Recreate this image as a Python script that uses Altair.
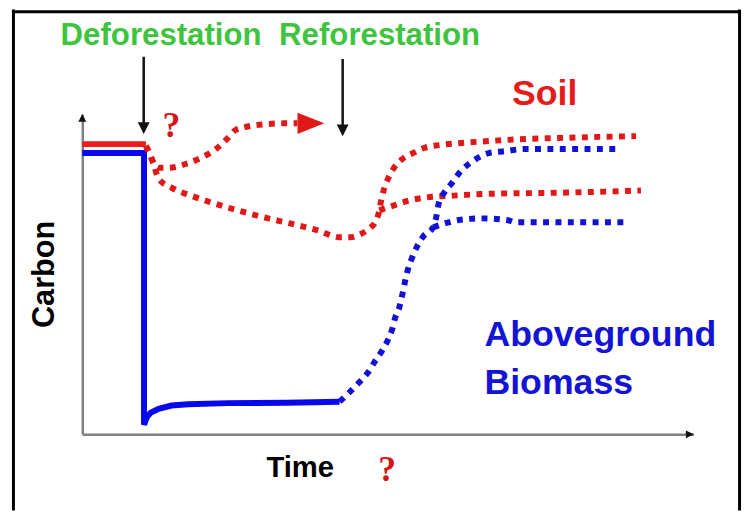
import altair as alt
import pandas as pd

# ---------------- data (x = Time, 0-100 along the axis; y = Carbon, 0-100 along the axis)
soil_pre_t = [0.0, 10.4]
soil_pre_c = [90.7, 90.7]

biomass_pre_t = [0.0, 10.1, 10.1, 10.6, 11.2, 12.5, 14.6, 17.3, 23.8, 33.5, 42.1]
biomass_pre_c = [87.9, 87.9, 3.0, 5.5, 6.8, 8.0, 9.0, 9.4, 9.75, 9.9, 10.2]

soil_gain_t = [10.4, 11.0, 11.5, 12.5, 14.1, 16.9, 19.4, 21.9, 23.8, 25.0, 26.6, 29.8, 33.1, 35.2]
soil_gain_c = [90.1, 87.9, 85.4, 83.3, 83.3, 84.5, 86.4, 89.2, 92.6, 95.0, 96.0, 96.9, 97.2, 97.2]

soil_main_t = [10.4, 11.0, 11.5, 12.5, 14.6, 17.8, 21.7, 25.4, 29.8, 34.0, 38.4, 42.1, 43.8,
               45.4, 47.0, 48.1, 48.6, 48.9, 49.3, 50.1, 50.9, 52.2, 54.1, 55.9, 58.3, 61.6,
               66.0, 72.4, 77.8, 83.3, 90.6]
soil_main_c = [90.1, 87.9, 85.4, 79.9, 77.1, 74.6, 72.1, 70.0, 67.8, 65.9, 63.8, 61.6, 61.6,
               62.5, 64.4, 66.9, 70.0, 73.1, 76.2, 80.2, 83.0, 85.8, 87.9, 89.5, 90.4, 91.0,
               91.6, 92.3, 92.6, 92.9, 93.2]

soil_low_t = [48.6, 50.9, 53.5, 56.2, 60.6, 67.1, 77.8, 91.4]
soil_low_c = [70.0, 71.5, 73.1, 74.0, 74.6, 75.2, 75.5, 76.2]

biomass_up_t = [42.1, 43.8, 45.4, 46.8, 47.8, 48.9, 49.9, 50.7, 51.2, 51.9, 52.4, 52.8, 53.3,
                54.0, 54.8, 55.8, 57.4, 57.9, 58.3, 59.2, 60.5, 61.8, 63.9, 66.5, 69.2, 72.4,
                77.8, 87.5]
biomass_up_c = [10.2, 13.3, 16.4, 19.5, 22.6, 25.7, 29.1, 32.8, 36.5, 39.9, 44.0, 47.7, 51.7,
                55.4, 58.8, 61.9, 64.7, 67.8, 72.1, 75.5, 78.6, 82.0, 85.4, 87.9, 88.5, 89.2,
                89.2, 89.2]

biomass_low_t = [57.4, 59.3, 61.6, 65.5, 69.7, 70.8, 77.8, 89.1]
biomass_low_c = [64.7, 65.9, 67.0, 67.5, 66.9, 66.3, 66.3, 66.3]

series_names = ["soil_pre", "biomass_pre", "soil_gain", "soil_main", "soil_low",
                "biomass_up", "biomass_low"]
series_styles = ["solid", "solid", "dotted", "dotted", "dotted", "dotted", "dotted"]
series_colors = ["#ee1c1c", "#0808ee", "#e01818", "#e01818", "#e01818", "#1212d4", "#1212d4"]
series_t = [soil_pre_t, biomass_pre_t, soil_gain_t, soil_main_t, soil_low_t, biomass_up_t, biomass_low_t]
series_c = [soil_pre_c, biomass_pre_c, soil_gain_c, soil_main_c, soil_low_c, biomass_up_c, biomass_low_c]

# black event arrows
event_t = [10.05, 42.6]
event_c_top = [118.0, 117.3]
event_c_end = [96.5, 95.8]

# arrow heads: axis heads, event heads, red soil head
head_t = [0.0, 99.4, 10.05, 42.6, 37.4]
head_c = [98.9, 0.0, 95.7, 95.0, 97.2]
head_shape = ["M0,-1L-1,1L1,1Z", "M1,0L-1,-1L-1,1Z", "M-1,-1L1,-1L0,1Z", "M-1,-1L1,-1L0,1Z",
              "M-1,-0.8L1,0L-1,0.8Z"]
head_size = [64, 64, 144, 144, 729]
head_fill = ["#111111", "#111111", "#111111", "#111111", "#e01818"]

# labels
green_labels = ["Deforestation", "Reforestation"]
green_t = [-3.55, 32.2]
green_c = [121.6, 121.6]
blue_labels = ["Aboveground", "Biomass"]
blue_t = [65.8, 65.8]
blue_c = [27.6, 12.7]
soil_label_t = [70.3]
soil_label_c = [103.0]
question_t = [14.6, 49.9]
question_c = [92.9, -14.6]

# ---------------- tables
rows = []
for name, style, ts, cs in zip(series_names, series_styles, series_t, series_c):
    for i, (t, c) in enumerate(zip(ts, cs)):
        rows.append({"series": name, "style": style, "idx": i, "t": t, "c": c})
lines_df = pd.DataFrame(rows)

events_df = pd.DataFrame({"t": event_t, "c": event_c_top, "c2": event_c_end})
heads_df = pd.DataFrame({"t": head_t, "c": head_c, "shape": head_shape,
                         "size": head_size, "fill": head_fill})
green_df = pd.DataFrame({"t": green_t, "c": green_c, "label": green_labels})
blue_df = pd.DataFrame({"t": blue_t, "c": blue_c, "label": blue_labels})
soil_df = pd.DataFrame({"t": soil_label_t, "c": soil_label_c, "label": ["Soil"]})
q_df = pd.DataFrame({"t": question_t, "c": question_c, "label": ["?", "?"]})
dummy = pd.DataFrame({"k": [0]})

# ---------------- scales / axes
xscale = alt.Scale(domain=[0, 100], nice=False, zero=False)
yscale = alt.Scale(domain=[0, 100], nice=False, zero=False)
x_axis = alt.Axis(title="Time", grid=False, ticks=False, labels=False,
                  domainColor="#808080", domainWidth=2.5,
                  titleFont="Liberation Sans", titleFontSize=29.5, titleFontWeight="bold",
                  titleColor="#000000", titleX=219.5, titleY=42.5, titleAlign="center",
                  titleBaseline="alphabetic")
y_axis = alt.Axis(title="Carbon", grid=False, ticks=False, labels=False,
                  domainColor="#808080", domainWidth=2.5,
                  titleFont="Liberation Sans", titleFontSize=31, titleFontWeight="bold",
                  titleColor="#000000", titleAngle=270, titleX=-29, titleY=161,
                  titleAlign="center", titleBaseline="alphabetic")


def X():
    return alt.X("t:Q", scale=xscale, axis=x_axis)


def Y():
    return alt.Y("c:Q", scale=yscale, axis=y_axis)


color = alt.Color("series:N", scale=alt.Scale(domain=series_names, range=series_colors), legend=None)

solid = alt.Chart(lines_df).transform_filter(alt.datum.style == "solid").mark_line(
    strokeWidth=6, strokeCap="butt", strokeJoin="miter", interpolate="linear"
).encode(x=X(), y=Y(), color=color, detail="series:N", order="idx:Q")

dotted = alt.Chart(lines_df).transform_filter(alt.datum.style == "dotted").mark_line(
    strokeWidth=6, strokeCap="butt", strokeDash=[6, 6.5], interpolate="monotone"
).encode(x=X(), y=Y(), color=color, detail="series:N", order="idx:Q")

events = alt.Chart(events_df).mark_rule(color="#111111", strokeWidth=2.5).encode(
    x=X(), y=Y(), y2="c2:Q")

heads = alt.Chart(heads_df).mark_point(filled=True, opacity=1, strokeWidth=0).encode(
    x=X(), y=Y(),
    shape=alt.Shape("shape:N", scale=None),
    size=alt.Size("size:Q", scale=None),
    fill=alt.Fill("fill:N", scale=None))

green_text = alt.Chart(green_df).mark_text(
    align="left", baseline="alphabetic", font="Liberation Sans", fontSize=31.5,
    fontWeight="bold", color="#3ec43e").encode(x=X(), y=Y(), text="label:N")

blue_text = alt.Chart(blue_df).mark_text(
    align="left", baseline="alphabetic", font="Liberation Sans", fontSize=36,
    fontWeight="bold", color="#1414d4").encode(x=X(), y=Y(), text="label:N")

soil_text = alt.Chart(soil_df).mark_text(
    align="left", baseline="alphabetic", font="Liberation Sans", fontSize=36,
    fontWeight="bold", color="#e41c1c").encode(x=X(), y=Y(), text="label:N")

q_text = alt.Chart(q_df).mark_text(
    align="center", baseline="alphabetic", font="Liberation Serif", fontSize=36,
    fontWeight="bold", color="#d41818").encode(x=X(), y=Y(), text="label:N")

frame_left = alt.Chart(dummy).mark_rule(color="#000000", strokeWidth=3).encode(
    x=alt.value(-69.5), y=alt.value(-106), y2=alt.value(400))
frame_right = alt.Chart(dummy).mark_rule(color="#000000", strokeWidth=3).encode(
    x=alt.value(663.5), y=alt.value(-106), y2=alt.value(400))
frame_top = alt.Chart(dummy).mark_rule(color="#000000", strokeWidth=3).encode(
    x=alt.value(-71), x2=alt.value(665), y=alt.value(-103.5))

chart = alt.layer(
    frame_left, frame_right, frame_top,
    solid, dotted, events, heads, green_text, blue_text, soil_text, q_text
).properties(
    width=617, height=323,
    autosize=alt.AutoSizeParams(type="none"),
    padding={"left": 75, "top": 105, "right": 52, "bottom": 75},
    background="#ffffff",
).configure_view(stroke=None)

chart.save("out.html", embed_options={"renderer": "svg", "actions": False})
